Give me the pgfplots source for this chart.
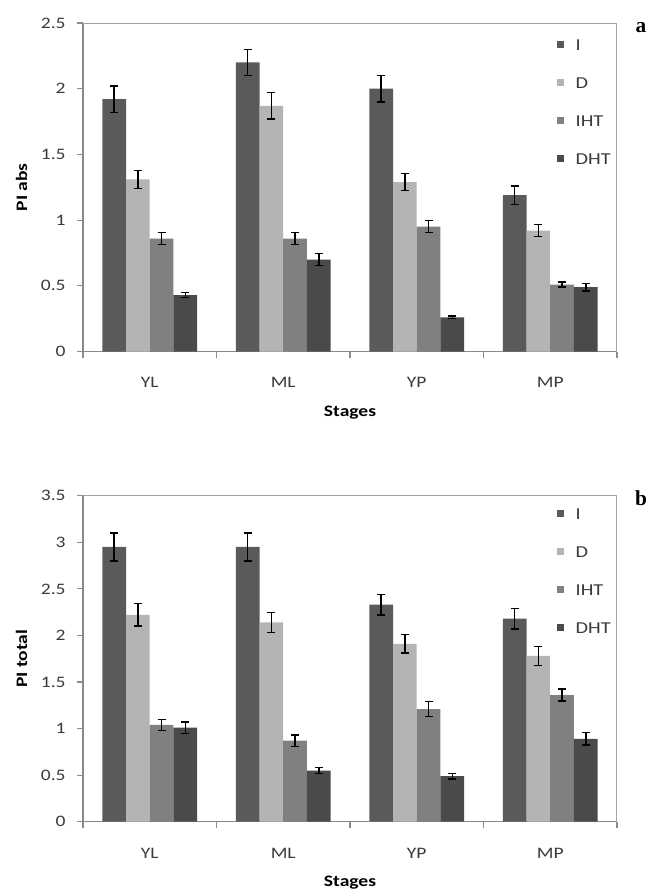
\documentclass[border=0pt]{standalone}
\usepackage{fontspec}
\setmainfont{Carlito}[FakeStretch=1.22]
\newfontfamily\timesbf{Liberation Serif}[BoldFont={* Bold}]
\usepackage{pgfplots}
\pgfplotsset{compat=1.18}
\definecolor{cI}{HTML}{5A5A5A}
\definecolor{cD}{HTML}{B4B4B4}
\definecolor{cIHT}{HTML}{808080}
\definecolor{cDHT}{HTML}{4A4A4A}
\definecolor{framec}{HTML}{94A8B6}
\definecolor{axgray}{HTML}{8A8A8A}
\definecolor{txt}{HTML}{3A3A3A}
\pgfplotsset{
  panel/.style={
    scale only axis, width=400.5pt,
    xmin=0.5, xmax=4.5, ymin=0,
    axis x line*=bottom, axis y line*=left,
    axis line style={axgray, line width=0.9pt, -},
    tick align=outside,
    xtick={1,2,3,4}, xticklabels={YL,ML,YP,MP},
    major x tick style={draw=none},
    minor xtick={0.5,1.5,2.5,3.5,4.5},
    minor tick length=4.5pt, major tick length=4.5pt,
    every tick/.style={axgray, line width=0.9pt},
    minor x tick style={axgray, line width=0.9pt},
    /pgf/number format/assume math mode=true,
    ticklabel style={font=\fontsize{12}{14}\selectfont, text=txt},
    yticklabel shift=5pt,
    xticklabel shift=11.5pt,
    xlabel={\textbf{Stages}},
    xlabel style={at={(axis description cs:0.5,0)}, anchor=center, yshift=-45.5pt, font=\fontsize{12}{14}\selectfont, text=black},
    ylabel style={at={(axis description cs:-0.1152,0.5)}, anchor=center, rotate=0, font=\fontsize{12}{14}\selectfont, text=black},
    ybar=0pt, bar width=17.8pt,
    error bars/y dir=both, error bars/y explicit,
    error bars/error bar style={black, line width=1pt},
    error bars/error mark options={black, rotate=90, mark size=3pt, line width=1pt},
    legend image code/.code={\fill[##1, draw=none] (0pt,-2.4pt) rectangle (4.8pt,2.4pt);},
    legend cell align=left,
    legend style={draw=none, fill=none, inner sep=0pt, anchor=north west,
      font=\fontsize{12.5}{14}\selectfont, text=txt,
      nodes={inner sep=0pt, text height=9pt, text depth=0pt},
      column sep=9pt, row sep=19.5pt},
  }
}
\begin{document}
\begin{tikzpicture}
\useasboundingbox (0,0) rectangle (489pt,-667.5pt);
% Panel a
\begin{axis}[panel, at={(62.25pt,-17.25pt)}, anchor=north west, height=246.4pt,
  ymax=2.5, ytick={0,0.5,1,1.5,2,2.5}, ylabel={\textbf{PI abs}},
  legend style={at={(0.8876,0.954)}}]
\addplot[fill=cI, draw=none] coordinates {(1,1.92) +- (0,0.10) (2,2.20) +- (0,0.10) (3,2.00) +- (0,0.10) (4,1.19) +- (0,0.07)};
\addplot[fill=cD, draw=none] coordinates {(1,1.31) +- (0,0.07) (2,1.87) +- (0,0.10) (3,1.29) +- (0,0.065) (4,0.92) +- (0,0.045)};
\addplot[fill=cIHT, draw=none] coordinates {(1,0.86) +- (0,0.045) (2,0.86) +- (0,0.045) (3,0.95) +- (0,0.045) (4,0.51) +- (0,0.02)};
\addplot[fill=cDHT, draw=none] coordinates {(1,0.43) +- (0,0.02) (2,0.70) +- (0,0.045) (3,0.26) +- (0,0.01) (4,0.49) +- (0,0.03)};
\legend{I,D,IHT,DHT}
\draw[framec, line width=0.9pt] (rel axis cs:0,1) -- (rel axis cs:1,1) -- (rel axis cs:1,0);
\end{axis}
% Panel b
\begin{axis}[panel, at={(62.25pt,-371.8pt)}, anchor=north west, height=244.5pt,
  ymax=3.5, ytick={0,0.5,1,1.5,2,2.5,3,3.5}, ylabel={\textbf{PI total}},
  legend style={at={(0.8876,0.965)}}]
\addplot[fill=cI, draw=none] coordinates {(1,2.95) +- (0,0.15) (2,2.95) +- (0,0.15) (3,2.33) +- (0,0.11) (4,2.18) +- (0,0.11)};
\addplot[fill=cD, draw=none] coordinates {(1,2.22) +- (0,0.12) (2,2.14) +- (0,0.11) (3,1.91) +- (0,0.10) (4,1.78) +- (0,0.10)};
\addplot[fill=cIHT, draw=none] coordinates {(1,1.04) +- (0,0.06) (2,0.87) +- (0,0.06) (3,1.21) +- (0,0.08) (4,1.36) +- (0,0.065)};
\addplot[fill=cDHT, draw=none] coordinates {(1,1.01) +- (0,0.06) (2,0.55) +- (0,0.03) (3,0.49) +- (0,0.03) (4,0.89) +- (0,0.065)};
\legend{I,D,IHT,DHT}
\draw[framec, line width=0.9pt] (rel axis cs:0,1) -- (rel axis cs:1,1) -- (rel axis cs:1,0);
\end{axis}
\node[font=\fontsize{16}{16}\timesbf\bfseries] at (480.75pt,-21pt) {a};
\node[font=\fontsize{16}{16}\timesbf\bfseries] at (480.75pt,-373.5pt) {b};
\end{tikzpicture}
\end{document}
